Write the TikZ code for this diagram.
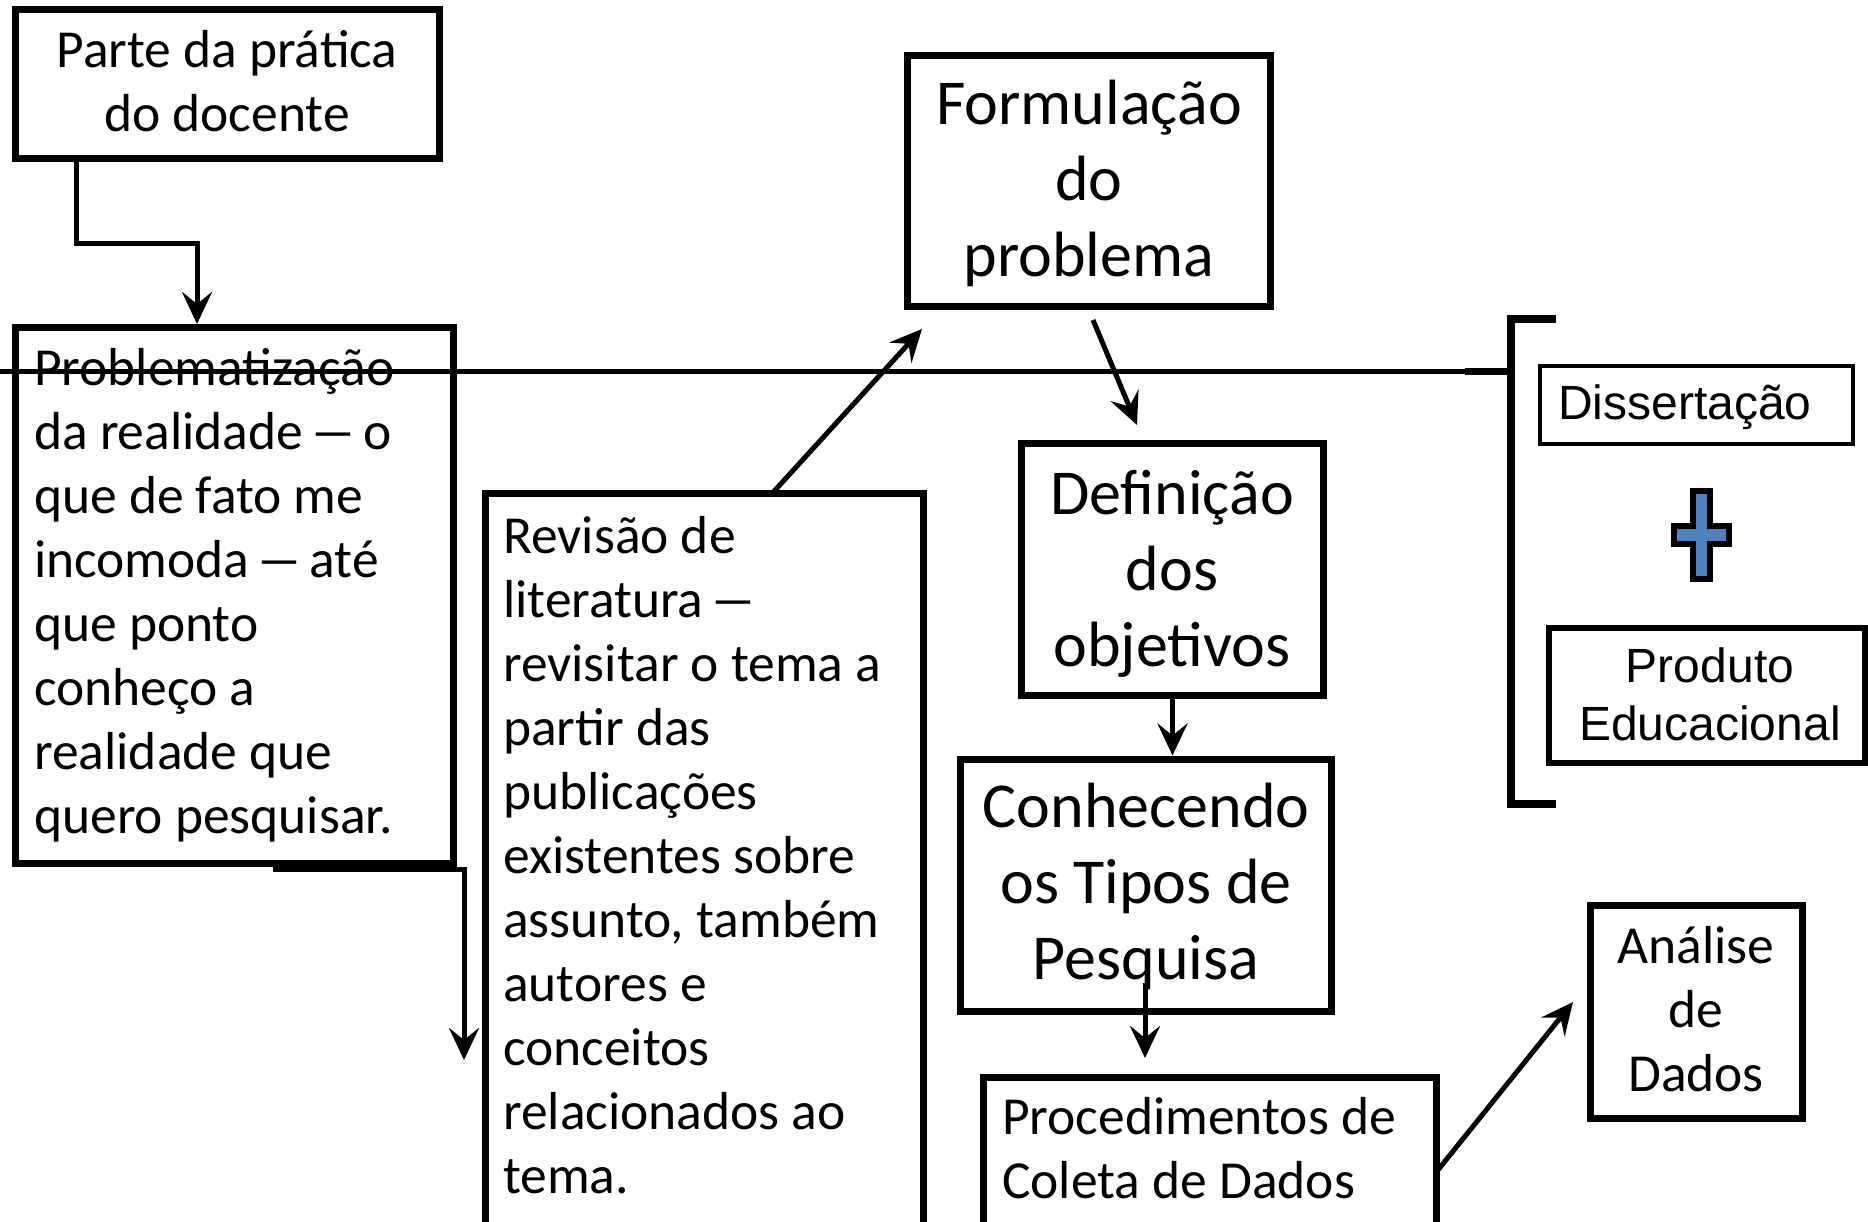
\documentclass[tikz,border=0pt]{standalone}
\usepackage{fontspec}
\usepackage{graphicx}
\setmainfont{Carlito}
\newfontfamily\arialf{Liberation Sans}
\usetikzlibrary{arrows.meta}
\definecolor{plusblue}{RGB}{79,129,189}
\newcommand\clines[1]{\vtop{\halign{\hfil##\hfil\cr#1\crcr}}}
\newcommand\llines[1]{\vtop{\halign{##\hfil\cr#1\crcr}}}
\newcommand\ldash{\kern-6pt\scalebox{1.8}[1]{–}\kern-6pt}
\tikzset{
 box/.style={draw, rectangle, line width=7pt, inner sep=0pt, outer sep=0pt},
 txtS/.style={inner sep=0pt, font=\fontsize{53.5}{64}\selectfont},
 txtL/.style={inner sep=0pt, font=\fontsize{64}{76}\selectfont},
 txtA/.style={inner sep=0pt, font=\arialf\fontsize{48}{58}\selectfont},
 arr/.style={line width=5pt, -{Stealth[length=32pt,width=30pt,inset=12pt]}},
}
\begin{document}
\begin{tikzpicture}[x=1pt,y=-1pt]
\useasboundingbox[fill=white] (0,0) rectangle (1868,1222);

% boxes
\node[box, minimum width=424pt, minimum height=149pt] (A) at (227.5,84) {};
\node[box, minimum width=438pt, minimum height=536pt] (B) at (234.5,595.5) {};
\node[box, minimum width=437.5pt, minimum height=736.5pt] (C) at (704.25,861.75) {};
\node[box, minimum width=363pt, minimum height=251pt] (D) at (1089,181) {};
\node[box, minimum width=302pt, minimum height=252pt] (E) at (1172.5,569.5) {};
\node[box, minimum width=371pt, minimum height=252pt] (F) at (1146,885.5) {};
\node[box, minimum width=453pt, minimum height=152.5pt] (G) at (1210,1153.75) {};
\node[box, minimum width=212pt, minimum height=213pt] (H) at (1696.5,1012) {};
\node[box, line width=4pt, minimum width=313pt, minimum height=78pt] (Dis) at (1696.5,405) {};
\node[box, line width=6pt, minimum width=316pt, minimum height=135pt] (Prod) at (1707,695.5) {};

% texts
\node[txtS, anchor=base] (tA) at (227,68) {\clines{Parte da prática\cr do docente}};
\node[txtS, anchor=base west] (tB) at (34,385) {\llines{Problematização\cr da realidade \ldash{} o\cr que de fato me\cr incomoda \ldash{} até\cr que ponto\cr conheço a\cr realidade que\cr quero pesquisar.}};
\node[txtS, anchor=base west] (tC) at (503,553) {\llines{Revisão de\cr literatura \ldash\cr revisitar o tema a\cr partir das\cr publicações\cr existentes sobre\cr assunto, também\cr autores e\cr conceitos\cr relacionados ao\cr tema.}};
\node[txtL, anchor=base] (tD) at (1089,125) {\clines{Formulação\cr do\cr problema}};
\node[txtL, anchor=base] (tE) at (1172,514) {\clines{Definição\cr dos\cr objetivos}};
\node[txtL, anchor=base] (tF) at (1146,827) {\clines{Conhecendo\cr os Tipos de\cr Pesquisa}};
\node[txtS, anchor=base west] (tG) at (1002,1134) {\llines{Procedimentos de\cr Coleta de Dados}};
\node[txtS, anchor=base] (tH) at (1696,963) {\clines{Análise\cr de\cr Dados}};
\node[txtA, anchor=base west] (tDis) at (1558,419) {Dissertação};
\node[txtA, anchor=base] (tProd) at (1710,682) {\clines{Produto\cr Educacional}};

% bracket and long line
\coordinate (lineL) at (0,371.5);
\coordinate (lineM) at (1465,371.5);
\coordinate (brk) at (1511,371.5);
\draw[line width=4.5pt] (lineL) -- (lineM);
\draw[line width=7pt] (lineM) -- (brk);
\draw[line width=8pt] (1556,319.5) -- (1511,319.5) -- (1511,803.5) -- (1556,803.5);

% plus sign
\draw[line width=6pt, fill=plusblue] (1693,491) -- (1710,491) -- (1710,526) -- (1729,526) -- (1729,544) -- (1710,544) -- (1710,579) -- (1693,579) -- (1693,544) -- (1674,544) -- (1674,526) -- (1693,526) -- cycle;

% connectors
\draw[arr] ([xshift=61.2pt]A.south west) -- ++(0,85.5) -| ([xshift=181.5pt,yshift=3.5pt]B.north west);
\coordinate (bcTip) at (464,1060);
\draw[arr] ([xshift=257.5pt,yshift=-6pt]B.south west) -| (bcTip);
\draw[arr] ([xshift=286.5pt]C.north west) -- ([xshift=14.5pt,yshift=-22.5pt]D.south west);
\draw[arr] ([xshift=4pt,yshift=-13.5pt]D.south) -- ([xshift=-35.5pt,yshift=18.5pt]E.north);
\draw[arr] (E.south) -- ++(0,60);
\draw[arr] ([xshift=-1pt,yshift=28.5pt]F.south) -- ++(0,75);
\draw[arr] ([yshift=-18pt]G.east) -- ([xshift=-17.5pt,yshift=10pt]H.west);
\end{tikzpicture}
\end{document}
